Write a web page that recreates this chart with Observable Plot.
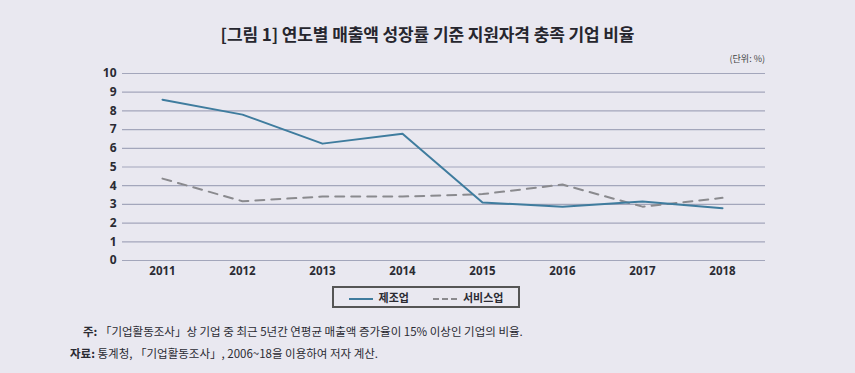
<!DOCTYPE html>
<html>
<head>
<meta charset="utf-8">
<script src="https://cdn.jsdelivr.net/npm/d3@7"></script>
<script src="https://cdn.jsdelivr.net/npm/@observablehq/plot@0.6"></script>
<style>
  html, body { margin: 0; padding: 0; }
  body { width: 855px; height: 373px; background: #e9e8f0; font-family: "Noto Sans CJK KR", "Noto Sans", sans-serif; position: relative; overflow: hidden; color: #222; }
  #title { position: absolute; top: 21px; left: 0; width: 855px; text-align: center; font-size: 17px; font-weight: 700; color: #26262e; letter-spacing: -0.1px; }
  #unit { position: absolute; top: 52px; right: 90px; font-size: 9px; color: #444; }
  #chart { position: absolute; top: 62px; left: 0; }
  #legend { position: absolute; top: 286px; left: 332px; width: 184px; height: 18px; border: 2px solid #555; display: flex; align-items: center; justify-content: center; font-size: 11px; font-weight: 700; color: #2b2b33; gap: 6px; }
  .sw { display: inline-block; width: 24px; height: 0; margin-right: 6px; }
  #notes { position: absolute; top: 320px; left: 0; font-size: 11.5px; color: #2b2b33; line-height: 22px; }
  #notes b { font-weight: 700; }
</style>
</head>
<body>
<div id="title">[그림 1] 연도별 매출액 성장률 기준 지원자격 충족 기업 비율</div>
<div id="unit">(단위: %)</div>
<div id="chart"></div>
<div id="legend">
  <span><span class="sw" style="border-top:2px solid #3f7c9e;vertical-align:middle"></span>제조업</span>
  <span style="margin-left:18px"><span class="sw" style="border-top:2px dashed #8a8a8e;vertical-align:middle"></span>서비스업</span>
</div>
<div id="notes">
  <div style="padding-left:83px"><b>주:</b> 「기업활동조사」상 기업 중 최근 5년간 연평균 매출액 증가율이 15% 이상인 기업의 비율.</div>
  <div style="padding-left:70px"><b>자료:</b> 통계청, 「기업활동조사」, 2006~18을 이용하여 저자 계산.</div>
</div>
<script>
const years = ["2011", "2012", "2013", "2014", "2015", "2016", "2017", "2018"];
const manufacturing = [8.6, 7.8, 6.25, 6.78, 3.1, 2.88, 3.15, 2.8];
const services = [4.38, 3.17, 3.42, 3.42, 3.55, 4.06, 2.88, 3.35];
const yTicks = [0, 1, 2, 3, 4, 5, 6, 7, 8, 9, 10];

const mfg = years.map((y, i) => ({year: y, value: manufacturing[i]}));
const svc = years.map((y, i) => ({year: y, value: services[i]}));

const chart = Plot.plot({
  width: 855,
  height: 220,
  marginLeft: 122,
  marginRight: 90,
  marginTop: 11,
  marginBottom: 22,
  style: {background: "transparent", fontFamily: "'Noto Sans', 'Noto Sans CJK KR', sans-serif"},
  x: {type: "point", domain: years, padding: 0.5, align: 0.476, label: null},
  y: {domain: [0, 10], label: null},
  marks: [
    Plot.ruleY(yTicks, {stroke: "#a3a6bb", strokeWidth: 1.2, strokeOpacity: 1}),
    Plot.axisY(yTicks, {tickSize: 0, tickPadding: 6, fontSize: 12, fontWeight: 700, fill: "#2b2b33", label: null}),
    Plot.axisX({tickSize: 0, tickPadding: 6, fontSize: 11.5, fontWeight: 700, fill: "#2b2b33", label: null}),
    Plot.line(svc, {x: "year", y: "value", stroke: "#8a8a8e", strokeWidth: 2, strokeDasharray: "9,7"}),
    Plot.line(mfg, {x: "year", y: "value", stroke: "#3f7c9e", strokeWidth: 2})
  ]
});
document.getElementById("chart").appendChild(chart);
</script>
</body>
</html>
